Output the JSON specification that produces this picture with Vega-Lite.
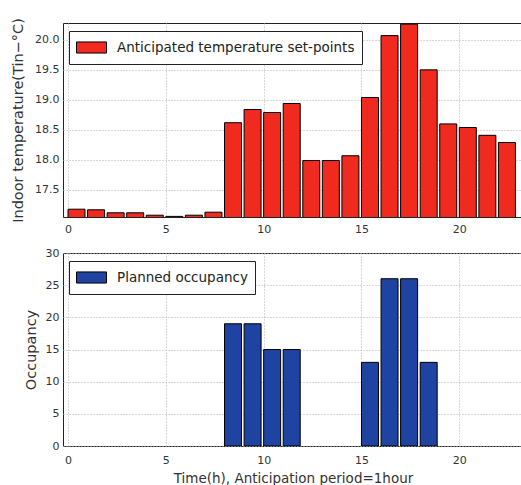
{
  "$schema": "https://vega.github.io/schema/vega-lite/v6.json",
  "padding": {"left": 10, "top": 17, "right": 0, "bottom": 0},
  "bounds": "flush",
  "spacing": 36,
  "config": {
    "font": "DejaVu Sans",
    "view": {"stroke": "#222", "strokeWidth": 1},
    "axis": {
      "domain": false,
      "ticks": false,
      "labelFont": "DejaVu Sans",
      "labelFontSize": 11,
      "labelColor": "#333",
      "titleFont": "DejaVu Sans",
      "titleFontWeight": "normal",
      "titleColor": "#333",
      "grid": true,
      "gridColor": "#b0b0b0",
      "gridWidth": 1,
      "gridOpacity": 1,
      "gridDash": [1, 2]
    },
    "legend": {
      "orient": "none",
      "legendX": 6,
      "legendY": 8,
      "strokeColor": "#222",
      "fillColor": "white",
      "padding": 7,
      "cornerRadius": 0,
      "labelFont": "DejaVu Sans",
      "labelFontSize": 13.5,
      "labelColor": "#222",
      "labelOffset": 10,
      "labelLimit": 500,
      "symbolType": "M-1,-0.37H1V0.37H-1Z",
      "symbolSize": 900,
      "symbolStrokeColor": "#000",
      "symbolStrokeWidth": 1,
      "symbolOpacity": 1,
      "clipHeight": 19
    }
  },
  "datasets": {
    "temp": [
      {"hour": 0, "temperature": 17.18, "series": "Anticipated temperature set-points"},
      {"hour": 1, "temperature": 17.17, "series": "Anticipated temperature set-points"},
      {"hour": 2, "temperature": 17.12, "series": "Anticipated temperature set-points"},
      {"hour": 3, "temperature": 17.12, "series": "Anticipated temperature set-points"},
      {"hour": 4, "temperature": 17.08, "series": "Anticipated temperature set-points"},
      {"hour": 5, "temperature": 17.06, "series": "Anticipated temperature set-points"},
      {"hour": 6, "temperature": 17.08, "series": "Anticipated temperature set-points"},
      {"hour": 7, "temperature": 17.13, "series": "Anticipated temperature set-points"},
      {"hour": 8, "temperature": 18.62, "series": "Anticipated temperature set-points"},
      {"hour": 9, "temperature": 18.84, "series": "Anticipated temperature set-points"},
      {"hour": 10, "temperature": 18.79, "series": "Anticipated temperature set-points"},
      {"hour": 11, "temperature": 18.94, "series": "Anticipated temperature set-points"},
      {"hour": 12, "temperature": 17.99, "series": "Anticipated temperature set-points"},
      {"hour": 13, "temperature": 17.99, "series": "Anticipated temperature set-points"},
      {"hour": 14, "temperature": 18.07, "series": "Anticipated temperature set-points"},
      {"hour": 15, "temperature": 19.04, "series": "Anticipated temperature set-points"},
      {"hour": 16, "temperature": 20.07, "series": "Anticipated temperature set-points"},
      {"hour": 17, "temperature": 20.26, "series": "Anticipated temperature set-points"},
      {"hour": 18, "temperature": 19.5, "series": "Anticipated temperature set-points"},
      {"hour": 19, "temperature": 18.6, "series": "Anticipated temperature set-points"},
      {"hour": 20, "temperature": 18.54, "series": "Anticipated temperature set-points"},
      {"hour": 21, "temperature": 18.41, "series": "Anticipated temperature set-points"},
      {"hour": 22, "temperature": 18.29, "series": "Anticipated temperature set-points"}
    ],
    "occ": [
      {"hour": 8, "occupancy": 19, "series": "Planned occupancy"},
      {"hour": 9, "occupancy": 19, "series": "Planned occupancy"},
      {"hour": 10, "occupancy": 15, "series": "Planned occupancy"},
      {"hour": 11, "occupancy": 15, "series": "Planned occupancy"},
      {"hour": 15, "occupancy": 13, "series": "Planned occupancy"},
      {"hour": 16, "occupancy": 26, "series": "Planned occupancy"},
      {"hour": 17, "occupancy": 26, "series": "Planned occupancy"},
      {"hour": 18, "occupancy": 13, "series": "Planned occupancy"}
    ]
  },
  "vconcat": [
    {
      "width": 460,
      "height": 194,
      "layer": [
        {
          "data": {"name": "temp"},
          "mark": {"type": "bar", "width": 17, "xOffset": 8.5, "stroke": "#000", "strokeWidth": 1, "clip": true},
          "encoding": {
            "x": {
              "field": "hour", "type": "quantitative",
              "scale": {"domain": [0, 23], "nice": false},
              "axis": {"values": [0, 5, 10, 15, 20], "title": null, "labelPadding": 6, "labelFlush": false, "grid": true}
            },
            "y": {
              "field": "temperature", "type": "quantitative",
              "scale": {"domain": [17.05, 20.28], "nice": false, "zero": false},
              "axis": {"values": [17.5, 18, 18.5, 19, 19.5, 20], "format": ".1f", "title": "Indoor temperature(Tin−°C)", "titleFontSize": 14.5, "titlePadding": 9, "labelPadding": 4, "grid": true}
            },
            "color": {
              "field": "series", "type": "nominal",
              "scale": {"range": ["#f02a1e"]},
              "legend": {"title": null, "symbolStrokeColor": "#000"}
            }
          }
        }
      ]
    },
    {
      "width": 460,
      "height": 193,
      "layer": [
        {
          "data": {"name": "occ"},
          "mark": {"type": "bar", "width": 17, "xOffset": 8.5, "stroke": "#000", "strokeWidth": 1, "clip": true},
          "encoding": {
            "x": {
              "field": "hour", "type": "quantitative",
              "scale": {"domain": [0, 23], "nice": false},
              "axis": {"values": [0, 5, 10, 15, 20], "title": "Time(h), Anticipation period=1hour", "titleFontSize": 13.5, "titlePadding": 6, "labelPadding": 8, "labelFlush": false, "grid": true}
            },
            "y": {
              "field": "occupancy", "type": "quantitative",
              "scale": {"domain": [0, 30], "nice": false},
              "axis": {"values": [0, 5, 10, 15, 20, 25, 30], "title": "Occupancy", "titleFontSize": 14.5, "titlePadding": 7, "labelPadding": 4, "grid": true}
            },
            "color": {
              "field": "series", "type": "nominal",
              "scale": {"range": ["#1f43a0"]},
              "legend": {"title": null, "symbolStrokeColor": "#000"}
            }
          }
        }
      ]
    }
  ],
  "resolve": {"scale": {"color": "independent"}, "legend": {"color": "independent"}}
}
